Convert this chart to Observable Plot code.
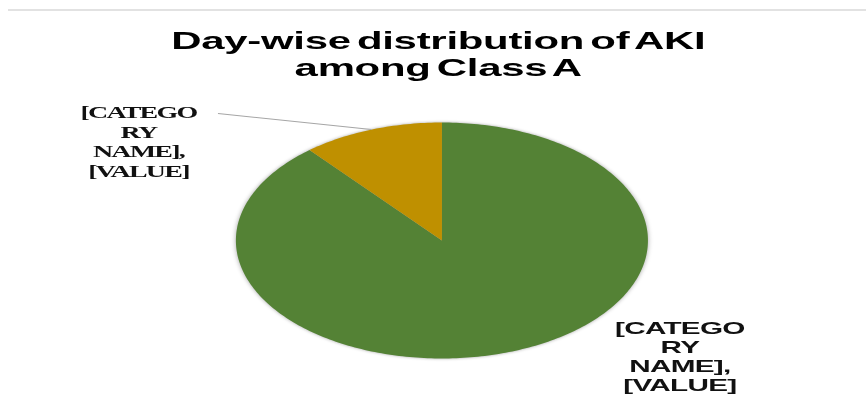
<!DOCTYPE html>
<html><head><meta charset="utf-8">
<script src="https://cdn.jsdelivr.net/npm/d3@7"></script>
<script src="https://cdn.jsdelivr.net/npm/@observablehq/plot@0.6"></script>
<style>
html,body{margin:0;padding:0;background:#fff;overflow:hidden}
#page{position:relative;width:866px;height:397px;overflow:hidden;background:#fff}
#rule{position:absolute;left:8px;right:0;top:9px;height:2px;background:#e2e2e2}
#wrap{position:absolute;left:0;top:0;width:496px;height:397px;transform:scaleX(1.746);transform-origin:0 0}
#title{position:absolute;left:0;width:502px;top:27px;text-align:center;font:bold 24px "Liberation Sans",Arial,sans-serif;line-height:27px;word-spacing:-3px;letter-spacing:-0.15px;color:#000;white-space:nowrap}
#chart{position:absolute;left:0;top:0}
</style></head>
<body>
<div id="page"><div id="rule"></div><div id="wrap"><div id="title">Day-wise distribution of AKI<br>among Class A</div><div id="chart"></div></div></div>
<script>
// Data
const categories = ["Category 1", "Category 2"];
const values = [8, 1];
const colors = ["#548235", "#BF9000"];
const labelText = ["[CATEGO", "RY", "NAME],", "[VALUE]"];

// Layout (unscaled SVG units; page is stretched horizontally by 1.746)
const W = 496, H = 397;
const cx = 252.6, cy = 240, r = 118;

const data = categories.map((c, i) => ({cat: c, value: values[i]}));
const arcs = d3.pie().sort(null).value(d => d.value)(data);

// polygon points for each slice (center + arc)
const pts = [];
arcs.forEach(a => {
  pts.push({cat: a.data.cat, x: 0, y: 0});
  const n = Math.max(2, Math.ceil((a.endAngle - a.startAngle) / (Math.PI / 180)));
  for (let k = 0; k <= n; k++) {
    const t = a.startAngle + (a.endAngle - a.startAngle) * k / n;
    pts.push({cat: a.data.cat, x: Math.sin(t), y: Math.cos(t)});
  }
});

const mid = a => (a.startAngle + a.endAngle) / 2;
// label anchors (data units relative to pie radius)
const labels = [
  {cat: categories[0], text: labelText.join("\n"), x: 1.155, y: -0.68, font: '"Liberation Sans", Arial, sans-serif', size: 17, lh: 1.12, ls: "-0.4px"},
  {cat: categories[1], text: labelText.join("\n"), x: -1.473, y: 1.16, font: '"Liberation Serif", "Times New Roman", serif', size: 16, lh: 1.24, ls: "-1px"}
];
const gold = arcs[1];
const leader = [{x1: -1.087, y1: 1.076, x2: Math.sin(mid(gold)), y2: Math.cos(mid(gold))}];

const plot = Plot.plot({
  width: W, height: H,
  margin: 0,
  x: {domain: [-1, 1], range: [cx - r, cx + r], axis: null},
  y: {domain: [-1, 1], range: [cy + r, cy - r], axis: null},
  color: {domain: categories, range: colors},
  style: {background: "transparent", overflow: "visible"},
  marks: [
    Plot.line(pts, {x: "x", y: "y", z: "cat", fill: "cat", stroke: "none", curve: "linear-closed"}),
    Plot.link(leader, {x1: "x1", y1: "y1", x2: "x2", y2: "y2", stroke: "#a6a6a6", strokeWidth: 1}),
    ...labels.map(l => Plot.text([l], {x: "x", y: "y", text: "text", lineAnchor: "top", lineHeight: l.lh, fontFamily: l.font, fontSize: l.size, fontWeight: "bold", fill: "#111", textAnchor: "middle"}))
  ]
});
plot.querySelectorAll('g[aria-label="line"]').forEach(g => g.style.filter = "drop-shadow(0 0 1.5px rgba(0,0,0,0.35))");
plot.querySelectorAll('g[aria-label="text"]').forEach((g, i) => g.style.letterSpacing = labels[i].ls);
document.getElementById("chart").appendChild(plot);
</script>
</body></html>
